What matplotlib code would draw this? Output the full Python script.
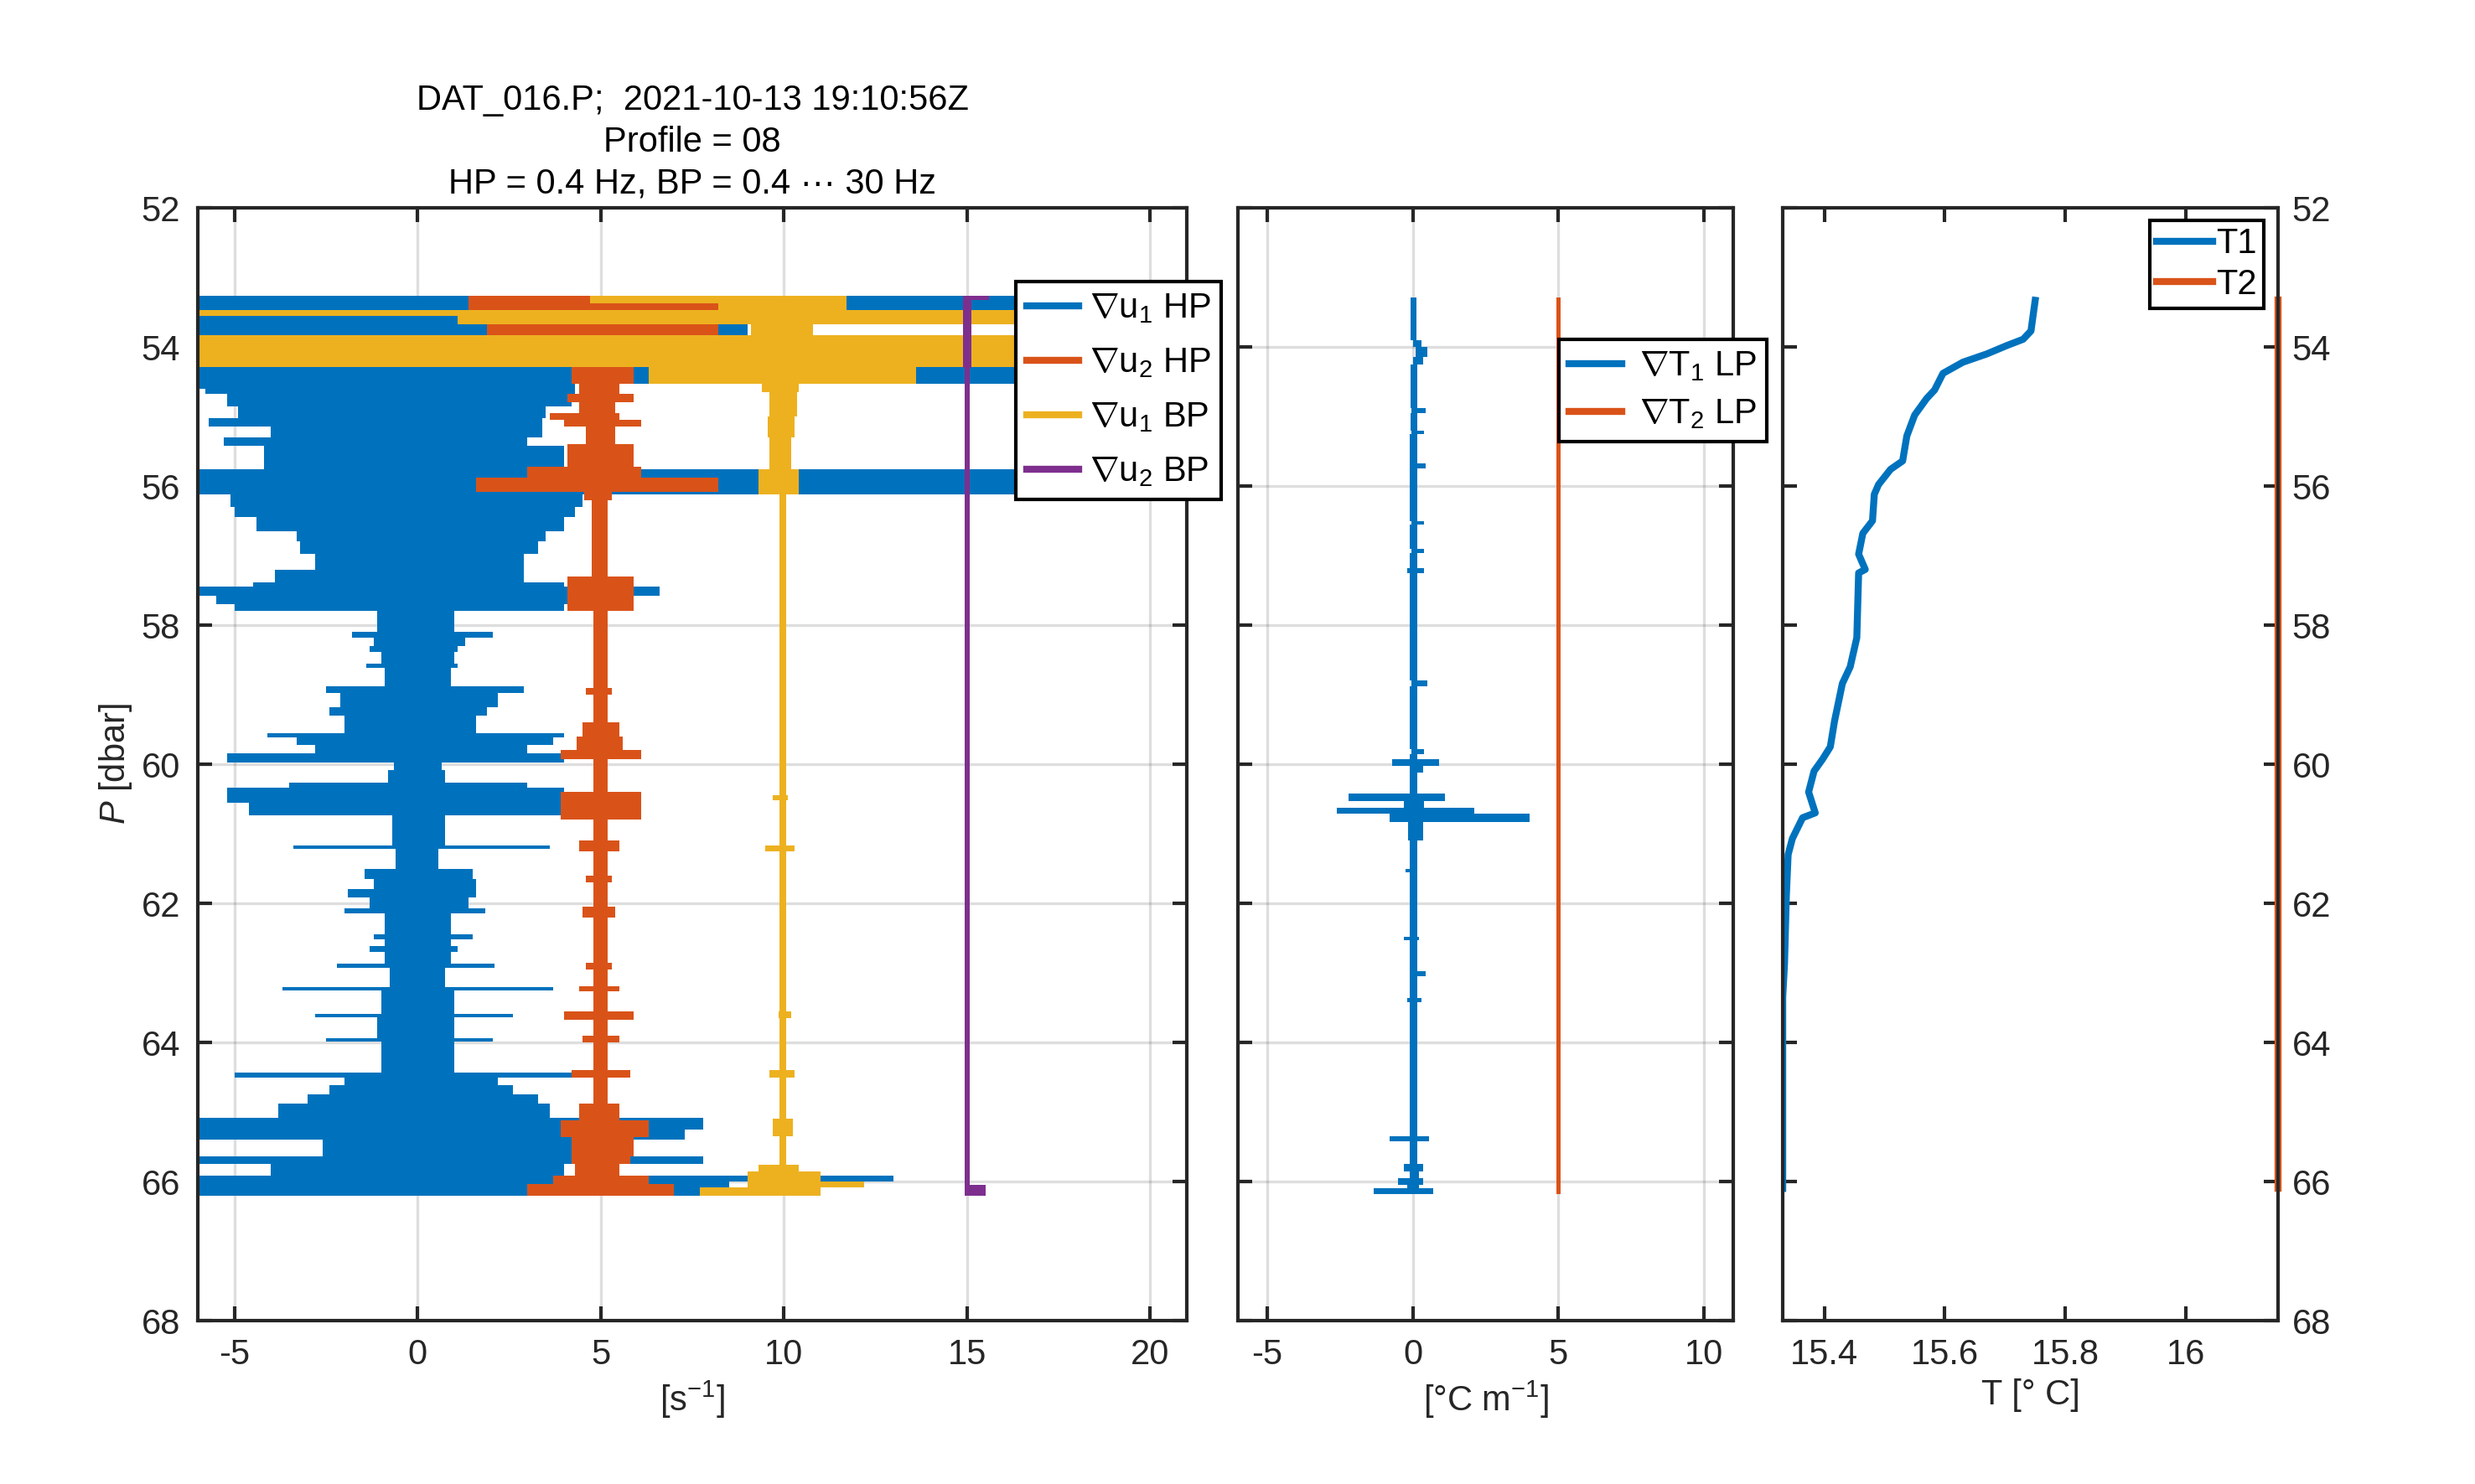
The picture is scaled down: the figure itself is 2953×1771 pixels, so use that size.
import numpy as np
import matplotlib
matplotlib.use("Agg")
import matplotlib.pyplot as plt
from matplotlib.lines import Line2D

plt.rcParams['font.family'] = ['Liberation Sans', 'DejaVu Sans']
plt.rcParams['mathtext.fontset'] = 'custom'
plt.rcParams['mathtext.rm'] = 'Liberation Sans'
plt.rcParams['mathtext.it'] = 'Liberation Sans:italic'
plt.rcParams['mathtext.bf'] = 'Liberation Sans:bold'
plt.rcParams['axes.unicode_minus'] = False

# ---- shear probes, offset by 0/5/10/15: band edges in P (last = end), lo/hi in s^-1
p_u1hp = [53.27, 53.67, 53.83, 54.53, 54.60, 54.68, 54.85, 55.02, 55.15, 55.30,
          55.42, 55.76, 56.12, 56.30, 56.45, 56.65, 56.80, 56.97, 57.20, 57.38,
          57.45, 57.58, 57.70, 57.80, 58.10, 58.18, 58.30, 58.38, 58.55, 58.62,
          58.88, 58.97, 59.18, 59.30, 59.55, 59.62, 59.72, 59.84, 59.98, 60.08,
          60.27, 60.34, 60.55, 60.73, 61.17, 61.22, 61.50, 61.65, 61.80, 61.92,
          62.07, 62.14, 62.45, 62.52, 62.62, 62.70, 62.87, 62.93, 63.20, 63.25,
          63.59, 63.64, 63.94, 63.99, 64.43, 64.50, 64.62, 64.75, 64.88, 65.08,
          65.25, 65.40, 65.64, 65.75, 65.92, 66.00, 66.20]
lo_u1hp = [-6, -6, -6, -6, -5.8, -5.2, -4.9, -5.7, -4.0, -5.3,
           -4.2, -6, -5.1, -5.0, -4.4, -3.3, -3.2, -2.8, -3.9, -4.5,
           -6, -5.5, -5.0, -1.1, -1.8, -1.2, -1.3, -1.0, -1.4, -0.9,
           -2.5, -2.1, -2.4, -2.0, -4.1, -3.3, -2.8, -5.2, -0.65, -0.8,
           -3.5, -5.2, -4.6, -0.7, -3.4, -0.6, -1.45, -1.2, -1.9, -1.3,
           -2.0, -0.9, -1.2, -0.9, -1.3, -0.9, -2.2, -0.75, -3.7, -1.0,
           -2.8, -1.1, -2.5, -1.0, -5.0, -2.0, -2.4, -3.0, -3.8, -6,
           -6, -2.6, -6, -4.0, -6, -6]
hi_u1hp = [21, 9, 21, 4.3, 4.3, 4.2, 3.5, 3.4, 3.4, 3.0,
           4.0, 21, 4.5, 4.3, 4.0, 3.5, 3.3, 2.9, 2.9, 4.0,
           6.6, 4.2, 4.0, 1.0, 2.05, 1.3, 1.1, 1.0, 1.1, 0.9,
           2.9, 2.2, 1.9, 1.6, 4.0, 3.7, 3.0, 4.0, 0.65, 0.75,
           3.0, 4.0, 4.0, 0.75, 3.6, 0.57, 1.5, 1.6, 1.6, 1.4,
           1.84, 0.9, 1.5, 0.9, 1.1, 0.9, 2.1, 0.75, 3.7, 1.0,
           2.6, 1.0, 2.05, 1.0, 4.2, 2.2, 2.6, 3.3, 3.6, 7.8,
           7.3, 4.3, 7.8, 4.0, 13.0, 8.5]

p_u2hp = [53.27, 53.47, 53.67, 53.83, 54.29, 54.53, 54.68, 54.80, 54.95, 55.05,
          55.15, 55.40, 55.72, 55.88, 56.08, 56.20, 57.30, 57.80, 58.90, 59.00,
          59.40, 59.60, 59.80, 59.93, 60.40, 60.80, 61.10, 61.25, 61.60, 61.70,
          62.05, 62.20, 62.85, 62.95, 63.19, 63.27, 63.55, 63.67, 63.90, 64.00,
          64.40, 64.50, 64.88, 65.12, 65.36, 65.64, 65.75, 65.92, 66.04, 66.20]
lo_u2hp = [1.4, 3.0, 1.9, 3.0, 4.2, 4.4, 4.1, 4.4, 3.6, 4.0,
           4.6, 4.1, 3.0, 1.6, 4.55, 4.75, 4.1, 4.8, 4.6, 4.8,
           4.5, 4.35, 3.9, 4.8, 3.9, 4.8, 4.4, 4.8, 4.6, 4.8,
           4.5, 4.8, 4.6, 4.8, 4.4, 4.8, 4.0, 4.8, 4.5, 4.8,
           4.2, 4.8, 4.4, 3.9, 4.2, 4.2, 4.3, 3.7, 3.0]
hi_u2hp = [8.2, 7.0, 8.2, 7.0, 5.9, 5.5, 5.9, 5.4, 5.5, 6.1,
           5.4, 5.9, 6.1, 8.2, 5.3, 5.2, 5.9, 5.2, 5.3, 5.2,
           5.5, 5.6, 6.1, 5.2, 6.1, 5.2, 5.5, 5.2, 5.3, 5.2,
           5.4, 5.2, 5.3, 5.2, 5.5, 5.2, 5.9, 5.2, 5.5, 5.2,
           5.8, 5.2, 5.5, 6.3, 5.9, 5.8, 5.5, 6.3, 7.0]

p_u1bp = [53.27, 53.37, 53.47, 53.55, 53.67, 53.83, 54.29, 54.53, 54.65, 55.00,
          55.30, 55.76, 56.12, 60.45, 60.52, 61.17, 61.25, 63.55, 63.65, 64.40,
          64.50, 65.10, 65.35, 65.76, 65.85, 66.00, 66.08, 66.20]
lo_u1bp = [4.7, 8.2, -6, 1.1, 9.1, -6, 6.3, 9.4, 9.6, 9.55,
           9.6, 9.3, 9.88, 9.7, 9.88, 9.5, 9.88, 9.85, 9.88, 9.6,
           9.88, 9.7, 9.88, 9.3, 9.0, 9.0, 7.7]
hi_u1bp = [11.7, 11.7, 21, 21, 10.8, 21, 13.6, 10.4, 10.35, 10.3,
           10.2, 10.4, 10.06, 10.1, 10.06, 10.3, 10.06, 10.2, 10.06, 10.3,
           10.06, 10.25, 10.06, 10.4, 11.0, 12.2, 11.0]

p_u2bp = [53.27, 53.33, 54.30, 66.05, 66.20]
lo_u2bp = [14.9, 14.9, 14.94, 14.94]
hi_u2bp = [15.6, 15.12, 15.08, 15.5]

# ---- thermistor gradients [deg C / m], T2 offset by 5
p_gt1 = [53.29, 53.90, 54.00, 54.15, 54.25, 54.88, 54.95, 55.20, 55.25, 55.68,
         55.75, 56.50, 56.56, 56.90, 56.96, 57.18, 57.25, 58.80, 58.88, 59.78,
         59.86, 59.93, 60.03, 60.12, 60.42, 60.53, 60.63, 60.71, 60.83, 61.10,
         61.50, 61.55, 62.48, 62.53, 62.98, 63.05, 63.36, 63.42, 65.35, 65.42,
         65.75, 65.85, 65.95, 66.05, 66.10, 66.18]
lo_gt1 = [-0.08, 0.0, 0.1, 0.0, -0.08, -0.05, -0.08, -0.05, -0.1, -0.1,
          -0.1, -0.05, -0.1, -0.05, -0.1, -0.2, -0.1, -0.05, -0.1, -0.05,
          -0.1, -0.7, -0.1, -0.1, -2.2, -0.3, -2.6, -0.8, -0.15, -0.1,
          -0.25, -0.1, -0.3, -0.1, -0.1, -0.1, -0.2, -0.1, -0.8, -0.1,
          -0.3, -0.1, -0.5, -0.2, -1.35]
hi_gt1 = [0.12, 0.3, 0.5, 0.35, 0.15, 0.45, 0.15, 0.4, 0.15, 0.45,
          0.15, 0.4, 0.15, 0.4, 0.15, 0.4, 0.15, 0.5, 0.15, 0.4,
          0.15, 0.9, 0.35, 0.15, 1.1, 0.4, 2.1, 4.0, 0.35, 0.15,
          0.15, 0.15, 0.2, 0.15, 0.45, 0.15, 0.3, 0.15, 0.55, 0.15,
          0.35, 0.2, 0.35, 0.2, 0.7]

p_gt2 = [53.29, 66.18]
lo_gt2 = [4.93]
hi_gt2 = [5.07]

# ---- temperature profiles
T1 = [15.75, 15.743, 15.73, 15.703, 15.67, 15.63, 15.597, 15.583, 15.57, 15.55,
      15.537, 15.53, 15.51, 15.49, 15.483, 15.48, 15.464, 15.457, 15.468, 15.457,
      15.454, 15.443, 15.43, 15.417, 15.41, 15.397, 15.383, 15.374, 15.385, 15.364,
      15.347, 15.34, 15.337, 15.334, 15.331, 15.331]
P_T1 = [53.33, 53.77, 53.89, 53.98, 54.10, 54.22, 54.38, 54.62, 54.74, 54.98,
        55.28, 55.64, 55.76, 55.98, 56.12, 56.50, 56.68, 56.98, 57.20, 57.25,
        58.18, 58.60, 58.84, 59.38, 59.75, 59.93, 60.10, 60.40, 60.70, 60.77,
        61.07, 61.30, 61.90, 62.87, 63.35, 66.10]
T2 = [16.153, 16.153]
P_T2 = [53.33, 66.10]

title_lines = ["DAT_016.P;  2021-10-13 19:10:56Z", "Profile = 08",
               "HP = 0.4 Hz, BP = 0.4 \u00b7\u00b7\u00b7 30 Hz"]
shear_labels = [r"$\nabla$u$_1$ HP", r"$\nabla$u$_2$ HP", r"$\nabla$u$_1$ BP", r"$\nabla$u$_2$ BP"]
grad_labels = [r"$\nabla$T$_1$ LP", r"$\nabla$T$_2$ LP"]
temp_labels = ["T1", "T2"]
p_ticks = [52, 54, 56, 58, 60, 62, 64, 66, 68]

colors = ['#0072BD', '#D95319', '#EDB120', '#7E2F8E']
axcol = '#262626'
fs = 10


def band(ax, p, lo, hi, color):
    # step-filled envelope of a noisy profile
    y = np.array(p, dtype=float)
    x1 = np.append(lo, lo[-1])
    x2 = np.append(hi, hi[-1])
    ax.fill_betweenx(y, x1, x2, step='post', color=color, lw=0)


def style(ax, grid=True):
    for s in ax.spines.values():
        s.set_color(axcol)
        s.set_linewidth(1.0)
    ax.tick_params(direction='in', top=True, right=True, length=4, width=1.0,
                   color=axcol, labelcolor=axcol, labelsize=fs, pad=5)
    ax.set_ylim(68, 52)
    ax.set_yticks(p_ticks)
    if grid:
        ax.grid(True, color=axcol, alpha=0.15, lw=0.8)
    ax.set_axisbelow(True)


fig = plt.figure(figsize=(2953 / 300, 1771 / 300), dpi=300)
bottom, height = 1 - 1576 / 1771, 1328 / 1771
ax1 = fig.add_axes([236 / 2953, bottom, 1180 / 2953, height])
ax2 = fig.add_axes([1477 / 2953, bottom, 591 / 2953, height])
ax3 = fig.add_axes([2127 / 2953, bottom, 591 / 2953, height])

# shear panel
band(ax1, p_u1hp, lo_u1hp, hi_u1hp, colors[0])
band(ax1, p_u2hp, lo_u2hp, hi_u2hp, colors[1])
band(ax1, p_u1bp, lo_u1bp, hi_u1bp, colors[2])
band(ax1, p_u2bp, lo_u2bp, hi_u2bp, colors[3])
style(ax1)
ax1.set_xlim(-6, 21)
ax1.set_xticks([-5, 0, 5, 10, 15, 20])
ax1.set_xlabel(r"[s$^{-1}$]", fontsize=fs, color=axcol, labelpad=2)
ax1.set_ylabel(r"$P$ [dbar]", fontsize=fs, color=axcol, labelpad=2)
h1 = [Line2D([], [], color=c, lw=2) for c in colors]
leg1 = ax1.legend(h1, shear_labels, loc='upper left', bbox_to_anchor=(1212 / 2953, 1 - 336 / 1771),
                  bbox_transform=fig.transFigure, borderaxespad=0, fontsize=fs, fancybox=False,
                  framealpha=1, edgecolor='black', handlelength=1.5, handletextpad=0.3,
                  labelspacing=0.6, borderpad=0.3)
leg1.get_frame().set_linewidth(1.0)

for i, t in enumerate(title_lines):
    fig.text(826 / 2953, 1 - (120 + 50 * i) / 1771, t, ha='center', va='center',
             fontsize=fs, color='black')

# gradient panel
band(ax2, p_gt1, lo_gt1, hi_gt1, colors[0])
band(ax2, p_gt2, lo_gt2, hi_gt2, colors[1])
style(ax2)
ax2.set_xlim(-6, 11)
ax2.set_xticks([-5, 0, 5, 10])
ax2.set_yticklabels([])
ax2.set_xlabel(r"[$\degree$C m$^{-1}$]", fontsize=fs, color=axcol, labelpad=2)
h2 = [Line2D([], [], color=c, lw=2) for c in colors[:2]]
leg2 = ax2.legend(h2, grad_labels, loc='upper left', bbox_to_anchor=(1860 / 2953, 1 - 405 / 1771),
                  bbox_transform=fig.transFigure, borderaxespad=0, fontsize=fs, fancybox=False,
                  framealpha=1, edgecolor='black', handlelength=1.5, handletextpad=0.5,
                  labelspacing=0.4, borderpad=0.3)
leg2.get_frame().set_linewidth(1.0)

# temperature panel
ax3.plot(T1, P_T1, color=colors[0], lw=2.0, label=temp_labels[0])
ax3.plot(T2, P_T2, color=colors[1], lw=2.0, label=temp_labels[1], clip_on=False)
style(ax3, grid=False)
ax3.set_xlim(min(T1), max(T2))
ax3.set_xticks([15.4, 15.6, 15.8, 16])
ax3.set_xticklabels(["15.4", "15.6", "15.8", "16"])
ax3.yaxis.tick_right()
ax3.tick_params(axis='y', left=True, right=True, labelleft=False, labelright=True, pad=4)
ax3.set_xlabel("T [\u00b0 C]", fontsize=fs, color=axcol, labelpad=2)
leg3 = ax3.legend(loc='upper right', bbox_to_anchor=(2701 / 2953, 1 - 263 / 1771),
                  bbox_transform=fig.transFigure, borderaxespad=0, fontsize=fs, fancybox=False,
                  framealpha=1, edgecolor='black', handlelength=1.6, handletextpad=0.1,
                  labelspacing=0.2, borderpad=0.2)
leg3.get_frame().set_linewidth(1.0)

fig.savefig("out.png", dpi=300)
